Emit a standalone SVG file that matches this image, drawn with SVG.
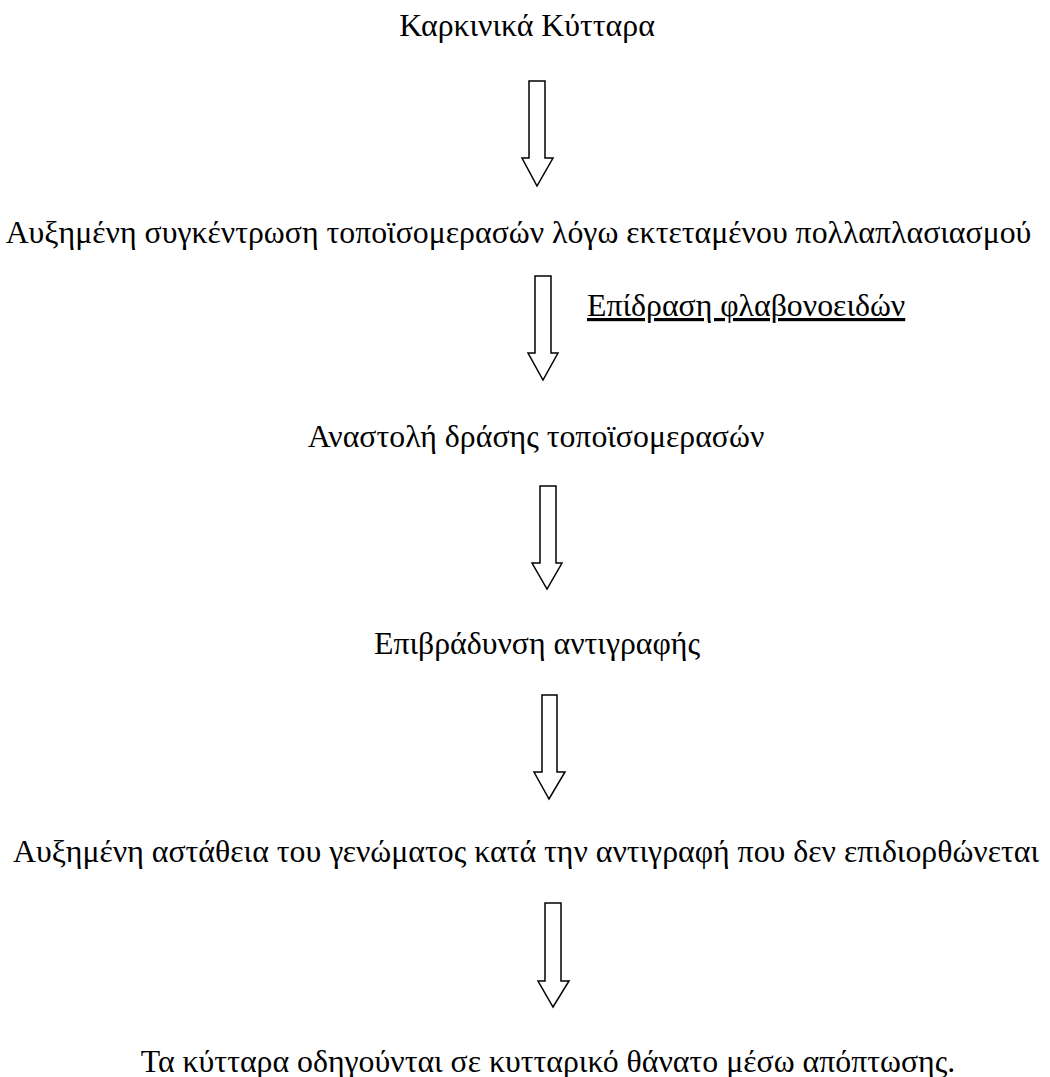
<svg xmlns="http://www.w3.org/2000/svg" width="1050" height="1077" viewBox="0 0 1050 1077">
<style>
text{font-family:"Liberation Serif","Times New Roman",serif;font-size:31.8px;fill:#000}
.c{text-anchor:middle}
.arrow{fill:#fff;stroke:#000;stroke-width:1.5;stroke-linejoin:miter}
</style>
<rect width="1050" height="1077" fill="#fff"/>
<g id="connectors">
<path class="arrow" d="M529,81 H545 V158 H553 L537,186 L522,158 H529 Z"/>
<path class="arrow" d="M535,276 H551 V353 H558 L543,380 L528,353 H535 Z"/>
<path class="arrow" d="M540,486 H556 V563 H562 L547,589 L532,563 H540 Z"/>
<path class="arrow" d="M542,695 H557 V772 H565 L549,799 L534,772 H542 Z"/>
<path class="arrow" d="M545,903 H561 V981 H569 L553,1007 L538,981 H545 Z"/>
</g>
<g id="n1"><text class="c" x="527" y="36">Καρκινικά Κύτταρα</text></g>
<g id="n2"><text class="c" x="518.5" y="243">Αυξημένη συγκέντρωση τοποϊσομερασών λόγω εκτεταμένου πολλαπλασιασμού</text></g>
<g id="label"><text x="587" y="316" text-decoration="underline">Επίδραση φλαβονοειδών</text></g>
<g id="n3"><text class="c" x="536" y="447">Αναστολή δράσης τοποϊσομερασών</text></g>
<g id="n4"><text class="c" x="537" y="654">Επιβράδυνση αντιγραφής</text></g>
<g id="n5"><text class="c" x="526" y="862">Αυξημένη αστάθεια του γενώματος κατά την αντιγραφή που δεν επιδιορθώνεται</text></g>
<g id="n6"><text class="c" x="548" y="1072">Τα κύτταρα οδηγούνται σε κυτταρικό θάνατο μέσω απόπτωσης.</text></g>
</svg>
